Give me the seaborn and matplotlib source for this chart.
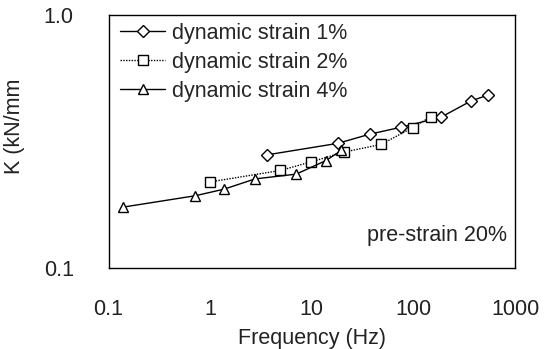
import matplotlib
matplotlib.use("Agg")
import matplotlib.pyplot as plt
import pandas as pd
import seaborn as sns

# frequency (Hz) and stiffness K (kN/mm)
freq_1 = [3.6, 18.0, 37.0, 75.0, 185.0, 370.0, 545.0]
k_1 = [0.280, 0.311, 0.338, 0.360, 0.394, 0.458, 0.483]

freq_2 = [1.0, 4.9, 9.9, 20.5, 48.0, 98.0, 147.0]
k_2 = [0.219, 0.243, 0.263, 0.287, 0.308, 0.359, 0.396]

freq_4 = [0.138, 0.71, 1.37, 2.76, 7.0, 13.8, 19.5]
k_4 = [0.174, 0.193, 0.205, 0.225, 0.235, 0.266, 0.292]

labels = ["dynamic strain 1%", "dynamic strain 2%", "dynamic strain 4%"]
x_ticks = [0.1, 1, 10, 100, 1000]
x_ticklabels = ["0.1", "1", "10", "100", "1000"]
y_ticks = [0.1, 1.0]
y_ticklabels = ["0.1", "1.0"]

sns.set_style("white")
plt.rcParams["font.family"] = ["Liberation Sans", "DejaVu Sans"]

frames = []
for lab, f, k in zip(labels, [freq_1, freq_2, freq_4], [k_1, k_2, k_4]):
    frames.append(pd.DataFrame({"freq": f, "K": k, "series": lab}))
df = pd.concat(frames, ignore_index=True)

fig = plt.figure(figsize=(5.51, 3.49), dpi=100)
ax = fig.add_axes([0.197, 0.232, 0.738, 0.725])

styles = {
    labels[0]: dict(marker="D", ms=6.5, ls="-"),
    labels[1]: dict(marker="s", ms=7.5, ls=(0, (1, 1))),
    labels[2]: dict(marker="^", ms=7.5, ls="-"),
}
for lab in labels:
    st = styles[lab]
    sns.lineplot(data=df[df["series"] == lab], x="freq", y="K", ax=ax,
                 color="black", marker=st["marker"], markersize=st["ms"],
                 markerfacecolor="white", markeredgecolor="black",
                 markeredgewidth=1.0, linestyle=st["ls"], linewidth=1.0,
                 label=lab, sort=False)

ax.set_xscale("log")
ax.set_yscale("log")
ax.set_xlim(0.1, 1000)
ax.set_ylim(0.1, 1.0)
ax.set_xticks(x_ticks)
ax.set_xticklabels(x_ticklabels)
ax.set_yticks(y_ticks)
ax.set_yticklabels(y_ticklabels)
ax.minorticks_off()
ax.tick_params(axis="x", direction="in", length=5, width=1, pad=22,
               labelsize=15.5, colors="#222222")
ax.tick_params(axis="y", direction="in", length=0, pad=25, labelsize=15.5,
               colors="#222222")
for sp in ax.spines.values():
    sp.set_color("black")
    sp.set_linewidth(1.0)

ax.set_xlabel("Frequency (Hz)", fontsize=15.5, labelpad=6, color="#222222")
ax.set_ylabel("K (kN/mm", fontsize=15.5, color="#222222")
ax.yaxis.set_label_coords(-0.205, 0.56)

ax.legend(loc="upper left", frameon=False, fontsize=15.5, handlelength=2.1,
          handletextpad=0.3, labelspacing=0.38, borderaxespad=0.0,
          borderpad=0.35, bbox_to_anchor=(0.01, 1.0))
ax.text(0.98, 0.13, "pre-strain 20%", transform=ax.transAxes,
        ha="right", va="center", fontsize=15.5, color="#222222")

fig.savefig("out.png", dpi=100)
